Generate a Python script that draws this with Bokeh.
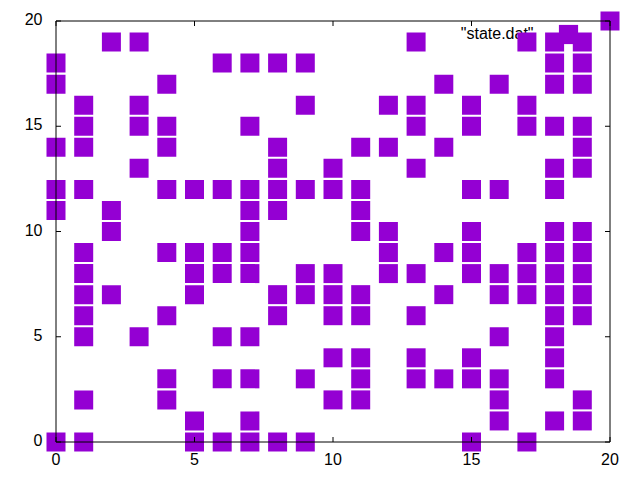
import math
from bokeh.plotting import figure
from bokeh.models import Range1d, Legend, LegendItem
from bokeh.core.properties import value
from bokeh.embed import file_html
from bokeh.resources import INLINE

# ---- data ----
X = ([0] * 6 + [1] * 11 + [2] * 4 + [3] * 5 + [4] * 8 + [5] * 6 + [6] * 7 +
     [7] * 11 + [8] * 8 + [9] * 7 + [10] * 7 + [11] * 9 + [12] * 5 + [13] * 8 +
     [14] * 5 + [15] * 9 + [16] * 8 + [17] * 7 + [18] * 15 + [19] * 13 + [20])
Y = ([0, 11, 12, 14, 17, 18] +
     [0, 2, 5, 6, 7, 8, 9, 12, 14, 15, 16] +
     [7, 10, 11, 19] +
     [5, 13, 15, 16, 19] +
     [2, 3, 6, 9, 12, 14, 15, 17] +
     [0, 1, 7, 8, 9, 12] +
     [0, 3, 5, 8, 9, 12, 18] +
     [0, 1, 3, 5, 8, 9, 10, 11, 12, 15, 18] +
     [0, 6, 7, 11, 12, 13, 14, 18] +
     [0, 3, 7, 8, 12, 16, 18] +
     [2, 4, 6, 7, 8, 12, 13] +
     [2, 3, 4, 6, 7, 10, 11, 12, 14] +
     [8, 9, 10, 14, 16] +
     [3, 4, 6, 8, 13, 15, 16, 19] +
     [3, 7, 9, 14, 17] +
     [0, 3, 4, 8, 9, 10, 12, 15, 16] +
     [1, 2, 3, 5, 7, 8, 12, 17] +
     [0, 7, 8, 9, 15, 16, 19] +
     [1, 3, 4, 5, 6, 7, 8, 9, 10, 12, 13, 15, 17, 18, 19] +
     [1, 2, 6, 7, 8, 9, 10, 13, 14, 15, 17, 18, 19] +
     [20])
XLIM = [0, 20]
YLIM = [0, 20]
XTICKS = [0, 5, 10, 15, 20]
YTICKS = [0, 5, 10, 15, 20]
XTICK_LABELS = ["0", "5", "10", "15", "20"]
YTICK_LABELS = ["0", "5", "10", "15", "20"]
SERIES_NAME = '"state.dat"'

# ---- layout (pixels) ----
W, H = 640, 480
L, R, T, B = 0, 0, 0, 0
X0PX, X1PX = 55.5, 609.5
Y0PX, Y1PX = 441.5, 20.5
sx = (X1PX - X0PX) / (XLIM[1] - XLIM[0])
sy = (Y0PX - Y1PX) / (YLIM[1] - YLIM[0])
x_start = XLIM[0] - (X0PX - L) / sx
x_end = x_start + (W - L - R) / sx
y_start = YLIM[0] - ((H - B) - Y0PX) / sy
y_end = y_start + (H - T - B) / sy

FONT = value("Liberation Sans")
FS = "16px"
PURPLE = "#9400D3"

p = figure(width=W, height=H,
           x_range=Range1d(x_start, x_end), y_range=Range1d(y_start, y_end),
           x_axis_location=None, y_axis_location=None,
           toolbar_location=None, output_backend="svg",
           min_border_left=L, min_border_right=R,
           min_border_top=T, min_border_bottom=B)
p.grid.visible = False
p.outline_line_color = None
p.background_fill_color = "white"
p.border_fill_color = "white"

# key text (drawn below the points, as in gnuplot)
p.text(x=[XLIM[1]], y=[YLIM[1]], text=[SERIES_NAME],
       x_offset=-76.5, y_offset=12, text_align="right",
       text_baseline="alphabetic", text_font=FONT, text_font_size=FS,
       text_color="black")

r = p.scatter(X, Y, marker="square", size=19, fill_color=PURPLE,
              line_color=None)

# border box
p.quad(left=[XLIM[0]], right=[XLIM[1]], bottom=[YLIM[0]], top=[YLIM[1]],
       fill_color=None, line_color="black", line_width=1)

# inward ticks on all four sides
nx, ny = len(XTICKS), len(YTICKS)
tick = dict(length=5, length_units="screen", line_color="black", line_width=1)
p.ray(x=XTICKS, y=[YLIM[0]] * nx, angle=math.pi / 2, **tick)
p.ray(x=XTICKS, y=[YLIM[1]] * nx, angle=-math.pi / 2, **tick)
p.ray(x=[XLIM[0]] * ny, y=YTICKS, angle=0, **tick)
p.ray(x=[XLIM[1]] * ny, y=YTICKS, angle=math.pi, **tick)

# tick labels
p.text(x=XTICKS, y=[YLIM[0]] * nx, text=XTICK_LABELS, y_offset=16.5,
       text_align="center", text_baseline="alphabetic",
       text_font=FONT, text_font_size=FS, text_color="black")
p.text(x=[XLIM[0]] * ny, y=YTICKS, text=YTICK_LABELS, x_offset=-13.5,
       y_offset=-2, text_align="right", text_baseline="alphabetic",
       text_font=FONT, text_font_size=FS, text_color="black")

# key sample
legend = Legend(items=[LegendItem(label=" ", renderers=[r])],
                location=(543.5, 422), glyph_width=48, glyph_height=48,
                padding=0, margin=0, spacing=0, label_standoff=0,
                border_line_color=None, background_fill_alpha=0,
                label_text_font_size="1px")
p.add_layout(legend)

open("out.html", "w").write(file_html(p, INLINE))
